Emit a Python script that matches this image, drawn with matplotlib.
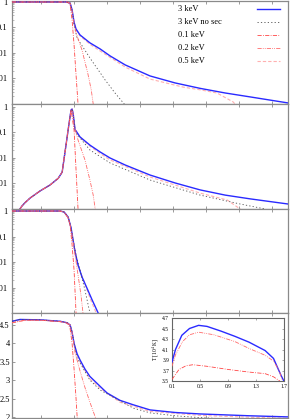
"""
Four stacked panels (three log fractions and the temperature) against depth,
with a small temperature inset in the bottom panel.
"""

import matplotlib
matplotlib.use('Agg')
import matplotlib.pyplot as plt

plt.rcParams['font.family'] = ['Liberation Serif', 'DejaVu Serif']
plt.rcParams['mathtext.fontset'] = 'stix'

# ---- data (depth in plot units, front at ~2) ----
labels = ['3 keV', '3 keV no sec', '0.1 keV', '0.2 keV', '0.5 keV']

# panel 1
p1_3kev_x = [0.12, 1.76, 1.88, 1.94, 2.00, 2.06, 2.18, 2.48, 2.79, 3.09, 3.55, 4.30, 5.06, 5.82, 6.58, 7.33, 8.48]
p1_3kev_y = [1, 1, 0.91, 0.49, 0.16, 0.087, 0.051, 0.025, 0.0144, 0.0077, 0.0034, 0.00126, 0.00067, 0.00041, 0.00027, 0.00019, 0.00011]
p1_nosec_x = [0.12, 1.76, 1.88, 1.94, 2.00, 2.09, 2.48, 2.94, 3.24, 3.52, 3.58]
p1_nosec_y = [1, 1, 0.91, 0.45, 0.125, 0.039, 0.0064, 0.00088, 0.00027, 0.0001, 0.00008]
p1_01_x = [0.12, 1.76, 1.82, 1.88, 1.94, 2.00, 2.06, 2.12, 2.15]
p1_01_y = [1, 1, 0.98, 0.76, 0.197, 0.0206, 0.00138, 0.0001, 0.00004]
p1_02_x = [0.12, 1.76, 1.88, 1.94, 2.00, 2.06, 2.24, 2.42, 2.52, 2.58, 2.61]
p1_02_y = [1, 1, 0.91, 0.45, 0.14, 0.061, 0.0131, 0.0015, 0.00036, 0.0001, 0.00006]
p1_05_x = [0.12, 1.76, 1.88, 1.94, 2.00, 2.06, 2.18, 2.48, 2.79, 3.55, 4.30, 5.30, 5.82, 6.33, 6.82, 6.94]
p1_05_y = [1, 1, 0.91, 0.49, 0.16, 0.080, 0.047, 0.022, 0.012, 0.0028, 0.00095, 0.00046, 0.00036, 0.00027, 0.00012, 0.00008]

# panel 2 (common rise, then separate tails)
p2_rise_x = [0.30, 0.36, 0.42, 0.52, 0.67, 0.97, 1.27, 1.52, 1.64, 1.70, 1.76, 1.82, 1.88, 1.91, 1.94]
p2_rise_y = [5e-5, 1e-4, 1.3e-4, 1.8e-4, 2.7e-4, 5.1e-4, 8.7e-4, 1.6e-3, 2.8e-3, 0.010, 0.035, 0.125, 0.44, 0.76, 0.83]
p2_3kev_x = [1.97, 2.03, 2.06, 2.18, 2.48, 2.79, 3.09, 3.55, 4.30, 5.06, 5.82, 6.58, 7.33, 8.48]
p2_3kev_y = [0.58, 0.125, 0.115, 0.067, 0.032, 0.0172, 0.010, 0.0053, 0.00215, 0.00105, 0.00056, 0.00035, 0.00025, 0.000157]
p2_nosec_x = [1.97, 2.03, 2.06, 2.48, 3.09, 4.30, 5.82, 7.03, 7.79, 7.88]
p2_nosec_y = [0.58, 0.13, 0.095, 0.0206, 0.0064, 0.00137, 0.00035, 0.000157, 0.0001, 0.00008]
p2_01_x = [2.00, 2.06, 2.12, 2.15]
p2_01_y = [0.125, 0.0034, 0.0001, 0.00003]
p2_02_x = [1.97, 2.00, 2.12, 2.33, 2.48, 2.58, 2.64, 2.67]
p2_02_y = [0.55, 0.197, 0.051, 0.0084, 0.00137, 0.00035, 0.0001, 0.00005]
p2_05_x = [1.97, 2.03, 2.06, 2.18, 2.48, 2.79, 3.09, 4.30, 5.82, 6.64, 7.03, 7.09]
p2_05_y = [0.58, 0.125, 0.115, 0.064, 0.029, 0.015, 0.0084, 0.0018, 0.00042, 0.000225, 0.0001, 0.00008]

# panel 3
p3_3kev_x = [0.12, 1.58, 1.70, 1.82, 1.91, 1.97, 2.03, 2.12, 2.24, 2.39, 2.55, 2.73, 2.79]
p3_3kev_y = [1, 1, 0.91, 0.58, 0.216, 0.073, 0.0247, 0.0077, 0.0026, 0.00095, 0.00032, 0.0001, 0.00007]
p3_nosec_x = [0.12, 1.58, 1.70, 1.82, 1.91, 1.97, 2.06, 2.18, 2.33, 2.48, 2.55]
p3_nosec_y = [1, 1, 0.91, 0.58, 0.216, 0.073, 0.0187, 0.0048, 0.00079, 0.0001, 0.00005]
p3_01_x = [0.12, 1.58, 1.70, 1.82, 1.88, 1.94, 2.00, 2.06, 2.09]
p3_01_y = [1, 1, 0.9, 0.53, 0.28, 0.0465, 0.0048, 0.0001, 0.00002]
p3_02_x = [0.12, 1.58, 1.70, 1.82, 1.88, 1.94, 2.03, 2.12, 2.21, 2.27, 2.30]
p3_02_y = [1, 1, 0.9, 0.55, 0.28, 0.114, 0.0187, 0.0031, 0.0005, 0.0001, 0.00005]
p3_05_x = [0.12, 1.58, 1.70, 1.82, 1.91, 1.97, 2.12, 2.33, 2.48, 2.67, 2.73]
p3_05_y = [1, 1, 0.91, 0.58, 0.216, 0.073, 0.007, 0.0014, 0.00039, 0.0001, 0.00007]

# panel 4: temperature [10^4 K]
p4_3kev_x = [0.12, 0.36, 0.97, 1.58, 1.79, 1.88, 1.94, 2.00, 2.09, 2.18, 2.33, 2.48, 2.79, 3.00, 3.39, 3.79, 4.30, 5.06, 5.82, 7.33, 8.48]
p4_3kev_y = [4.6, 4.65, 4.64, 4.6, 4.56, 4.5, 4.3, 4.0, 3.72, 3.55, 3.3, 3.1, 2.83, 2.65, 2.45, 2.33, 2.19, 2.12, 2.08, 2.03, 2.0]
p4_nosec_x = [0.12, 0.36, 0.97, 1.58, 1.79, 1.88, 1.94, 2.00, 2.09, 2.18, 2.48, 2.79, 3.79, 4.30, 5.06, 5.82, 6.73]
p4_nosec_y = [4.6, 4.65, 4.64, 4.6, 4.56, 4.5, 4.3, 4.0, 3.6, 3.47, 3.0, 2.73, 2.24, 2.11, 2.03, 1.98, 1.94]
p4_01_x = [0.12, 0.52, 0.97, 1.58, 1.76, 1.82, 1.88, 1.94, 2.00, 2.06, 2.09, 2.12]
p4_01_y = [4.56, 4.63, 4.63, 4.59, 4.56, 4.52, 4.4, 4.0, 3.3, 2.5, 2.05, 1.7]
p4_02_x = [0.12, 0.52, 0.97, 1.58, 1.79, 1.88, 1.94, 2.03, 2.18, 2.33, 2.48, 2.64, 2.70]
p4_02_y = [4.56, 4.63, 4.63, 4.59, 4.56, 4.5, 4.3, 3.75, 3.25, 2.8, 2.4, 2.0, 1.85]
p4_05_x = [0.12, 0.36, 0.97, 1.58, 1.79, 1.88, 1.94, 2.00, 2.09, 2.18, 2.48, 2.79, 3.39, 4.30, 5.82, 7.33, 8.48]
p4_05_y = [4.6, 4.65, 4.64, 4.6, 4.56, 4.5, 4.3, 4.0, 3.7, 3.5, 3.03, 2.78, 2.4, 2.15, 2.04, 1.99, 1.96]

# inset: temperature near the surface
in_3kev_x = [0.1, 0.15, 0.24, 0.35, 0.48, 0.6, 0.8, 1.0, 1.2, 1.43, 1.55, 1.62, 1.66, 1.69, 1.7]
in_3kev_t = [3.86, 4.1, 4.37, 4.5, 4.56, 4.54, 4.45, 4.35, 4.24, 4.08, 3.93, 3.72, 3.6, 3.52, 3.5]
in_hi_x = [0.1, 0.15, 0.25, 0.35, 0.48, 0.7, 1.0, 1.2, 1.43, 1.55, 1.63, 1.68]
in_hi_t = [3.78, 4.0, 4.25, 4.38, 4.43, 4.38, 4.25, 4.12, 3.99, 3.88, 3.7, 3.5]
in_lo_x = [0.1, 0.2, 0.3, 0.4, 0.6, 0.9, 1.2, 1.43, 1.55, 1.64]
in_lo_t = [3.53, 3.72, 3.79, 3.81, 3.78, 3.72, 3.67, 3.64, 3.58, 3.5]

log_ticks = [1, 0.1, 0.01, 0.001]
log_ticklabels = ['1', '0.1', '0.01', '0.001']
t_ticks = [4.5, 4, 3.5, 3, 2.5, 2]
t_ticklabels = ['4.5', '4', '3.5', '3', '2.5', '2']
in_xticks = [0.1, 0.5, 0.9, 1.3, 1.7]
in_yticks = [3.5, 3.7, 3.9, 4.1, 4.3, 4.5, 4.7]

# line styles per series
styles = {
    '3 keV': dict(color='#2a2aff', lw=1.0, ls='-', zorder=3),
    '3 keV no sec': dict(color='#505050', lw=0.6, ls=(0, (1.5, 2.6)), zorder=4),
    '0.1 keV': dict(color='#ff4545', lw=0.6, ls=(0, (5, 1.6, 1, 1.6)), zorder=5),
    '0.2 keV': dict(color='#ff6a6a', lw=0.6, ls=(0, (5, 1.4, 1, 1.4, 1, 1.4)), zorder=5),
    '0.5 keV': dict(color='#ffb0b0', lw=0.8, ls=(0, (3, 1.8)), zorder=2),
}

GRAY = '#8a8a8a'


def style_axis(ax, log=True):
    for sp in ax.spines.values():
        sp.set_color(GRAY)
        sp.set_linewidth(0.9)
    ax.set_xlim(0.12, 8.48)
    ax.set_xticks(range(1, 9))
    ax.tick_params(axis='x', which='both', direction='in', top=True, bottom=True,
                   labelbottom=False, length=2.3, width=0.6, color=GRAY)
    ax.tick_params(axis='y', which='major', direction='in', left=True, right=False,
                   length=2.3, width=0.6, color=GRAY, labelsize=6, pad=3.2)
    ax.tick_params(axis='y', which='minor', direction='in', left=True, right=False,
                   length=1.2, width=0.4, color=GRAY)
    if log:
        ax.set_yscale('log')
        ax.set_yticks(log_ticks)
        ax.set_yticklabels(log_ticklabels)
        ax.yaxis.set_minor_formatter(plt.NullFormatter())


def main():
    fig = plt.figure(figsize=(2.99, 4.19), dpi=100)
    left, width = 12 / 299, 276 / 299
    # panel edges in pixels from the top
    edges = [1, 104, 209, 313, 418]
    axes = []
    for i in range(4):
        bot = 1 - edges[i + 1] / 419
        top = 1 - edges[i] / 419
        axes.append(fig.add_axes([left, bot, width, top - bot]))
    ax1, ax2, ax3, ax4 = axes

    # panel 1
    ax1.plot(p1_3kev_x, p1_3kev_y, **styles['3 keV'])
    ax1.plot(p1_nosec_x, p1_nosec_y, **styles['3 keV no sec'])
    ax1.plot(p1_01_x, p1_01_y, **styles['0.1 keV'])
    ax1.plot(p1_02_x, p1_02_y, **styles['0.2 keV'])
    ax1.plot(p1_05_x, p1_05_y, **styles['0.5 keV'])
    style_axis(ax1)
    ax1.set_ylim(1e-4, 1.094)

    # panel 2
    ax2.plot(p2_rise_x + p2_3kev_x, p2_rise_y + p2_3kev_y, **styles['3 keV'])
    ax2.plot(p2_rise_x + p2_nosec_x, p2_rise_y + p2_nosec_y, **styles['3 keV no sec'])
    ax2.plot(p2_rise_x[:-1] + p2_01_x, p2_rise_y[:-1] + p2_01_y, **styles['0.1 keV'])
    ax2.plot(p2_rise_x + p2_02_x, p2_rise_y + p2_02_y, **styles['0.2 keV'])
    ax2.plot(p2_rise_x + p2_05_x, p2_rise_y + p2_05_y, **styles['0.5 keV'])
    style_axis(ax2)
    ax2.set_ylim(1e-4, 1.31)

    # panel 3
    ax3.plot(p3_3kev_x, p3_3kev_y, **styles['3 keV'])
    ax3.plot(p3_nosec_x, p3_nosec_y, **styles['3 keV no sec'])
    ax3.plot(p3_01_x, p3_01_y, **styles['0.1 keV'])
    ax3.plot(p3_02_x, p3_02_y, **styles['0.2 keV'])
    ax3.plot(p3_05_x, p3_05_y, **styles['0.5 keV'])
    style_axis(ax3)
    ax3.set_ylim(1e-4, 1.2)

    # panel 4 (temperature)
    ax4.plot(p4_3kev_x, p4_3kev_y, **styles['3 keV'])
    ax4.plot(p4_nosec_x, p4_nosec_y, **styles['3 keV no sec'])
    ax4.plot(p4_01_x, p4_01_y, **styles['0.1 keV'])
    ax4.plot(p4_02_x, p4_02_y, **styles['0.2 keV'])
    ax4.plot(p4_05_x, p4_05_y, **styles['0.5 keV'])
    style_axis(ax4, log=False)
    ax4.set_ylim(1.97, 4.826)
    ax4.set_yticks(t_ticks)
    ax4.set_yticklabels(t_ticklabels)
    ax4.tick_params(axis='y', pad=1.6)

    # legend drawn by hand: text left-aligned, sample line on the right
    ys = [0.922, 0.796, 0.670, 0.544, 0.417]
    for lab, y in zip(labels, ys):
        ax1.text(0.601, y, lab, transform=ax1.transAxes, fontsize=6,
                 ha='left', va='center')
        st = dict(styles[lab])
        st.pop('zorder')
        ax1.plot([0.888, 0.971], [y, y], transform=ax1.transAxes, **st)

    # inset
    ins = fig.add_axes([172 / 299, 1 - 381 / 419, 112 / 299, 63 / 419])
    ins.set_facecolor('white')
    ins.plot(in_3kev_x, in_3kev_t, **styles['3 keV'])
    ins.plot(in_hi_x, in_hi_t, **styles['0.2 keV'])
    ins.plot(in_lo_x, in_lo_t, **styles['0.1 keV'])
    ins.set_xlim(0.1, 1.7)
    ins.set_ylim(3.5, 4.7)
    ins.set_xticks(in_xticks)
    ins.set_xticklabels([f'{v:.1f}' for v in in_xticks])
    ins.set_yticks(in_yticks)
    ins.set_yticklabels([f'{v:.1f}' for v in in_yticks])
    ins.tick_params(direction='in', length=1.5, width=0.4, labelsize=4, pad=2,
                    color='#666666', top=True, right=True)
    for sp in ins.spines.values():
        sp.set_color('#666666')
        sp.set_linewidth(0.8)
    ins.set_ylabel('T [10$^4$ K]', fontsize=4, labelpad=1)

    fig.savefig('out.png', dpi=100)


if __name__ == '__main__':
    main()
